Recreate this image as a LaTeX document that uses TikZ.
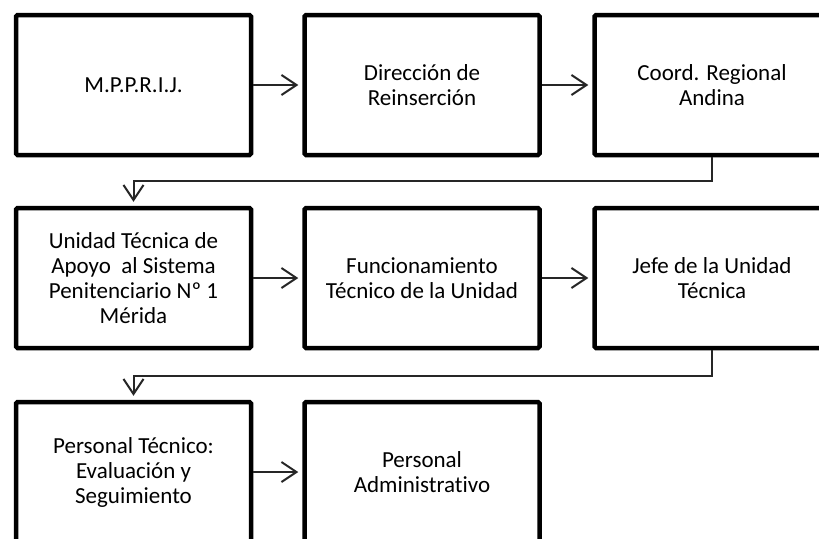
\documentclass[tikz,border=0pt]{standalone}
\usepackage{fontspec}
\setmainfont{Carlito}[Ligatures=NoCommon]
\usetikzlibrary{arrows.meta}
\begin{document}
\begin{tikzpicture}[x=1pt,y=1pt,
  box/.style={draw=black, line width=4.5pt, rounded corners=1.5pt,
    minimum width=235pt, minimum height=140pt, inner sep=0pt,
    align=center, font=\fontsize{23}{25}\selectfont, text=black},
  conn/.style={line width=2pt, draw=black!85,
    -{Straight Barb[length=15pt,width=20pt,line width=2pt]}, shorten >=4pt},
]
\clip (0,0) rectangle (819,-538);
\fill[white] (0,0) rectangle (819,-538);
% row 1
\node[box] (a) at (133.5,-85) {M.P.P.R.I.J.};
\node[box] (b) at (422,-85) {Dirección de\\Reinserción};
\node[box] (c) at (712,-85) {Coord. Regional\\Andina};
% row 2
\node[box] (d) at (133.5,-278) {Unidad Técnica de\\Apoyo\ \ al Sistema\\Penitenciario Nº 1\\Mérida};
\node[box] (e) at (422,-278) {Funcionamiento\\Técnico de la Unidad};
\node[box] (f) at (712,-278) {Jefe de la Unidad\\Técnica};
% row 3
\node[box] (g) at (133.5,-472) {Personal Técnico:\\Evaluación y\\Seguimiento};
\node[box] (h) at (422,-472) {Personal\\Administrativo};
% connectors
\draw[conn] (a) -- (b);
\draw[conn] (b) -- (c);
\draw[conn] (d) -- (e);
\draw[conn] (e) -- (f);
\draw[conn] (g) -- (h);
\coordinate (k1) at ([yshift=-24pt]c.south);
\coordinate (k2) at ([yshift=-26pt]f.south);
\draw[conn] (c.south) -- (k1) -| (d.north);
\draw[conn] (f.south) -- (k2) -| (g.north);
\end{tikzpicture}
\end{document}
